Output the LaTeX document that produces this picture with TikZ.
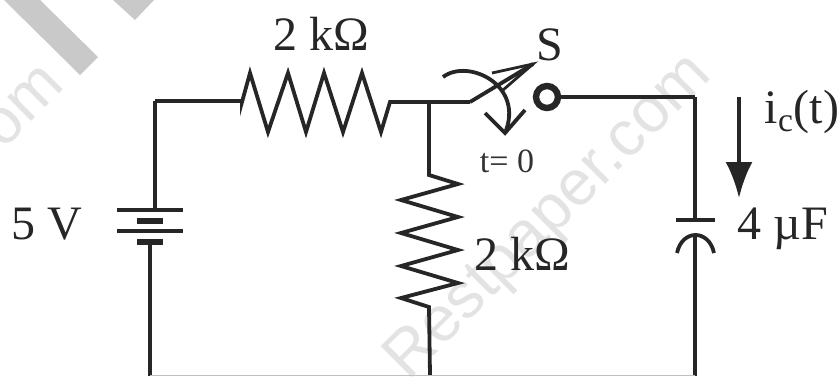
\documentclass[tikz,border=0pt]{standalone}
\usepackage{fontspec}
\setmainfont{Liberation Serif}
\newfontfamily\stampfont{Liberation Sans}
\usetikzlibrary{arrows.meta}

\begin{document}
\begin{tikzpicture}[x=0.5pt,y=-0.5pt,>={Latex[length=18pt,width=13.5pt]},
  wire/.style={line width=1.9pt,black!85,line join=miter},
  lab/.style={inner sep=0pt,black!85,font=\fontsize{24}{26}\selectfont},
  smalllab/.style={inner sep=0pt,black!80,font=\fontsize{17}{19}\selectfont},
  stamp/.style={inner sep=0pt,rotate=45,black!11,font=\fontsize{32}{34}\stampfont\selectfont}]
\useasboundingbox (0,0) rectangle (838,376);

% watermark
\fill[black!21] (40,0) -- (98,57) -- (80,75) -- (4,0) -- cycle;
\fill[black!21] (113,0) -- (135,20) -- (154,0) -- cycle;
\node[stamp] (stampleft) at (12,118) {com};
\node[stamp] (stampright) at (550,218) {Restpaper.com};

% corners of the circuit
\coordinate (topleft) at (155,101);
\coordinate (botleft) at (150,375.5);
\coordinate (junction) at (429,102);
\coordinate (botmid) at (430,375.5);
\coordinate (topright) at (695,97);
\coordinate (botright) at (695,375.5);
\coordinate (pivot) at (470,102);
\coordinate (bladetip) at (533,64);
\node[circle,draw,line width=3.2pt,black!85,minimum size=11pt,inner sep=0pt] (contact) at (547,97) {};

% top resistor
\coordinate (rtopa) at (242,102);
\coordinate (rtopb) at (390,102);
\draw[wire] (topleft) -- ++(87,0) -- (rtopa) -- ++(8,-29) -- ++(18,59) -- ++(20,-59) -- ++(18,59) -- ++(18,-59) -- ++(19,59) -- ++(19,-59) -- ++(19,59) -- (rtopb) -- (pivot);

% middle resistor
\coordinate (rmida) at (429,175);
\coordinate (rmidb) at (429,307);
\draw[wire] (junction) -- (rmida) -- ++(29,9) -- ++(-57,16) -- ++(57,17) -- ++(-57,16) -- ++(57,17) -- ++(-57,16) -- ++(57,17) -- ++(-57,15) -- (rmidb) -- (botmid);

% battery
\coordinate (batplus) at (155,210);
\coordinate (batminus) at (150,242);
\draw[wire] (topleft) -- (batplus);
\draw[wire] (batminus) -- (botleft);
\draw[wire] (117,210) -- (183,210);
\draw[line width=2.8pt,black!85] (137,221) -- (163,221);
\draw[wire] (117,231) -- (183,231);
\draw[line width=2.8pt,black!85] (137,242) -- (163,242);

% switch
\draw[wire] (pivot) -- (bladetip);
\draw[line width=1.4pt,black!85] (492,73) -- (bladetip) -- (503,90) (bladetip) -- (497,86);
\coordinate (turnstart) at (443,77);
\coordinate (turnend) at (505,133);
\draw[wire] (turnstart) .. controls (468,58) and (525,85) .. (turnend);
\draw[wire] (485,113) -- (turnend) -- (525,110);
\draw[wire] (contact) -- (topright);

% capacitor
\coordinate (platetop) at (695,220);
\coordinate (platebot) at (695,235);
\draw[wire] (topright) -- (platetop);
\draw[wire] (676,220) -- (715,220);
\draw[wire] (677,253) .. controls (682,229) and (709,229) .. (714,253);
\draw[wire] (platebot) -- (botright);

% return wire
\draw[line width=0.5pt,black!25] (botleft) -- (botmid) -- (botright);

% current arrow
\coordinate (curra) at (739,97);
\coordinate (currb) at (739,198);
\draw[wire,->] (curra) -- (currb);

\node[lab] (rtoplabel) at (321,34) {2 kΩ};
\node[lab] (rmidlabel) at (522,254) {2 kΩ};
\node[lab] (slabel) at (550,45) {S};
\node[smalllab] (tlabel) at (507,161) {t= 0};
\node[lab] (vlabel) at (47,224) {5 V};
\node[lab] (clabel) at (783,229) {4 µF};
\node[lab] (ilabel) at (802,112) {i\textsubscript{c}(t)};
\end{tikzpicture}
\end{document}
